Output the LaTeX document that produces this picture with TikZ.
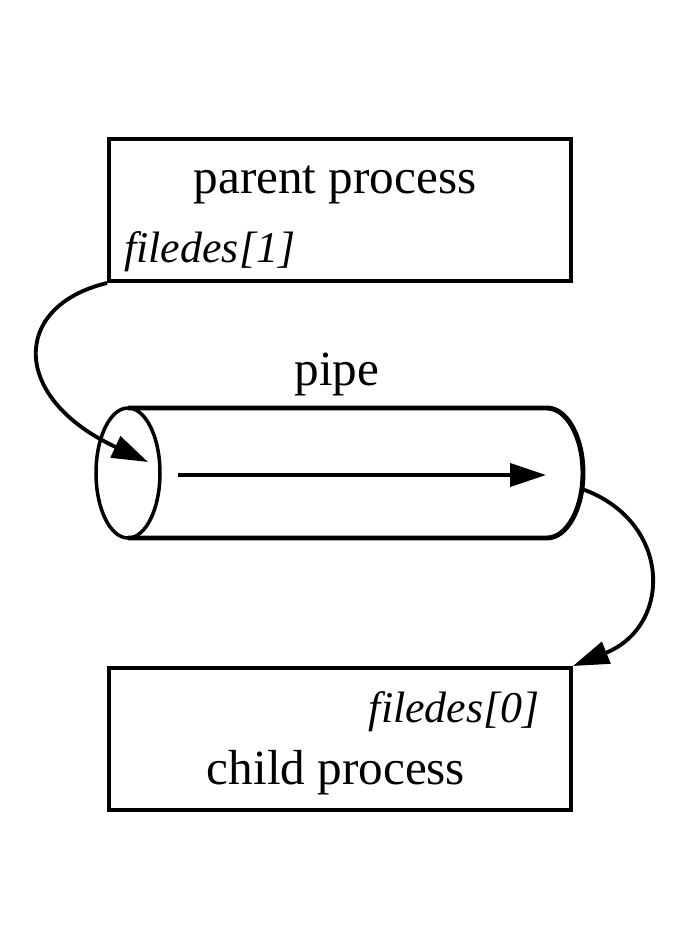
\documentclass[tikz,border=0pt]{standalone}
\usepackage{fontspec}
\setmainfont{Liberation Serif}
\usepackage{tikz}
\usetikzlibrary{positioning, arrows.meta}

\begin{document}
\begin{tikzpicture}[x=0.02cm, y=-0.02cm,
    procbox/.style={draw, line width=2.3pt, minimum width=9.24cm, minimum height=2.84cm, inner sep=0pt},
    lbl/.style={font=\fontsize{28}{34}\selectfont, inner sep=0pt, anchor=base},
    fdlbl/.style={font=\fontsize{25}{30}\selectfont\itshape, inner sep=0pt, anchor=base},
    flow/.style={line width=2.2pt, -{Triangle[length=0.72cm, width=0.46cm]}}]
  \useasboundingbox (0,0) rectangle (684,948);
  % parent process
  \node[procbox] (parent) at (340,210) {};
  \node[lbl] (ptitle) at (335,193) {parent process};
  \node[fdlbl, anchor=base west] (pfd) at (124,262) {filedes[1]};
  % the pipe
  \node[lbl] (pipelbl) at (337,385) {pipe};
  \draw[line width=2pt] (128,473) ellipse [x radius=0.64cm, y radius=1.3cm];
  \draw[line width=2.8pt] (128,408) -- (547,408)
    arc[start angle=90, end angle=-90, x radius=0.72cm, y radius=1.3cm] -- (128,538);
  \coordinate (pin) at (148,462);
  \coordinate (pout) at (582,489);
  \coordinate (flowin) at (178,475);
  \coordinate (flowout) at (546,475);
  \draw[flow] (flowin) -- (flowout);
  % child process
  \node[procbox] (child) at (340,739) {};
  \node[fdlbl, anchor=base east] (cfd) at (540,722) {filedes[0]};
  \node[lbl] (ctitle) at (336,784) {child process};
  % connections
  \draw[flow] (parent.south west) .. controls +(-96,23) and +(-138,-64) .. (pin);
  \draw[flow] (pout) .. controls +(90,32) and +(100,-40) .. (child.north east);
\end{tikzpicture}
\end{document}
